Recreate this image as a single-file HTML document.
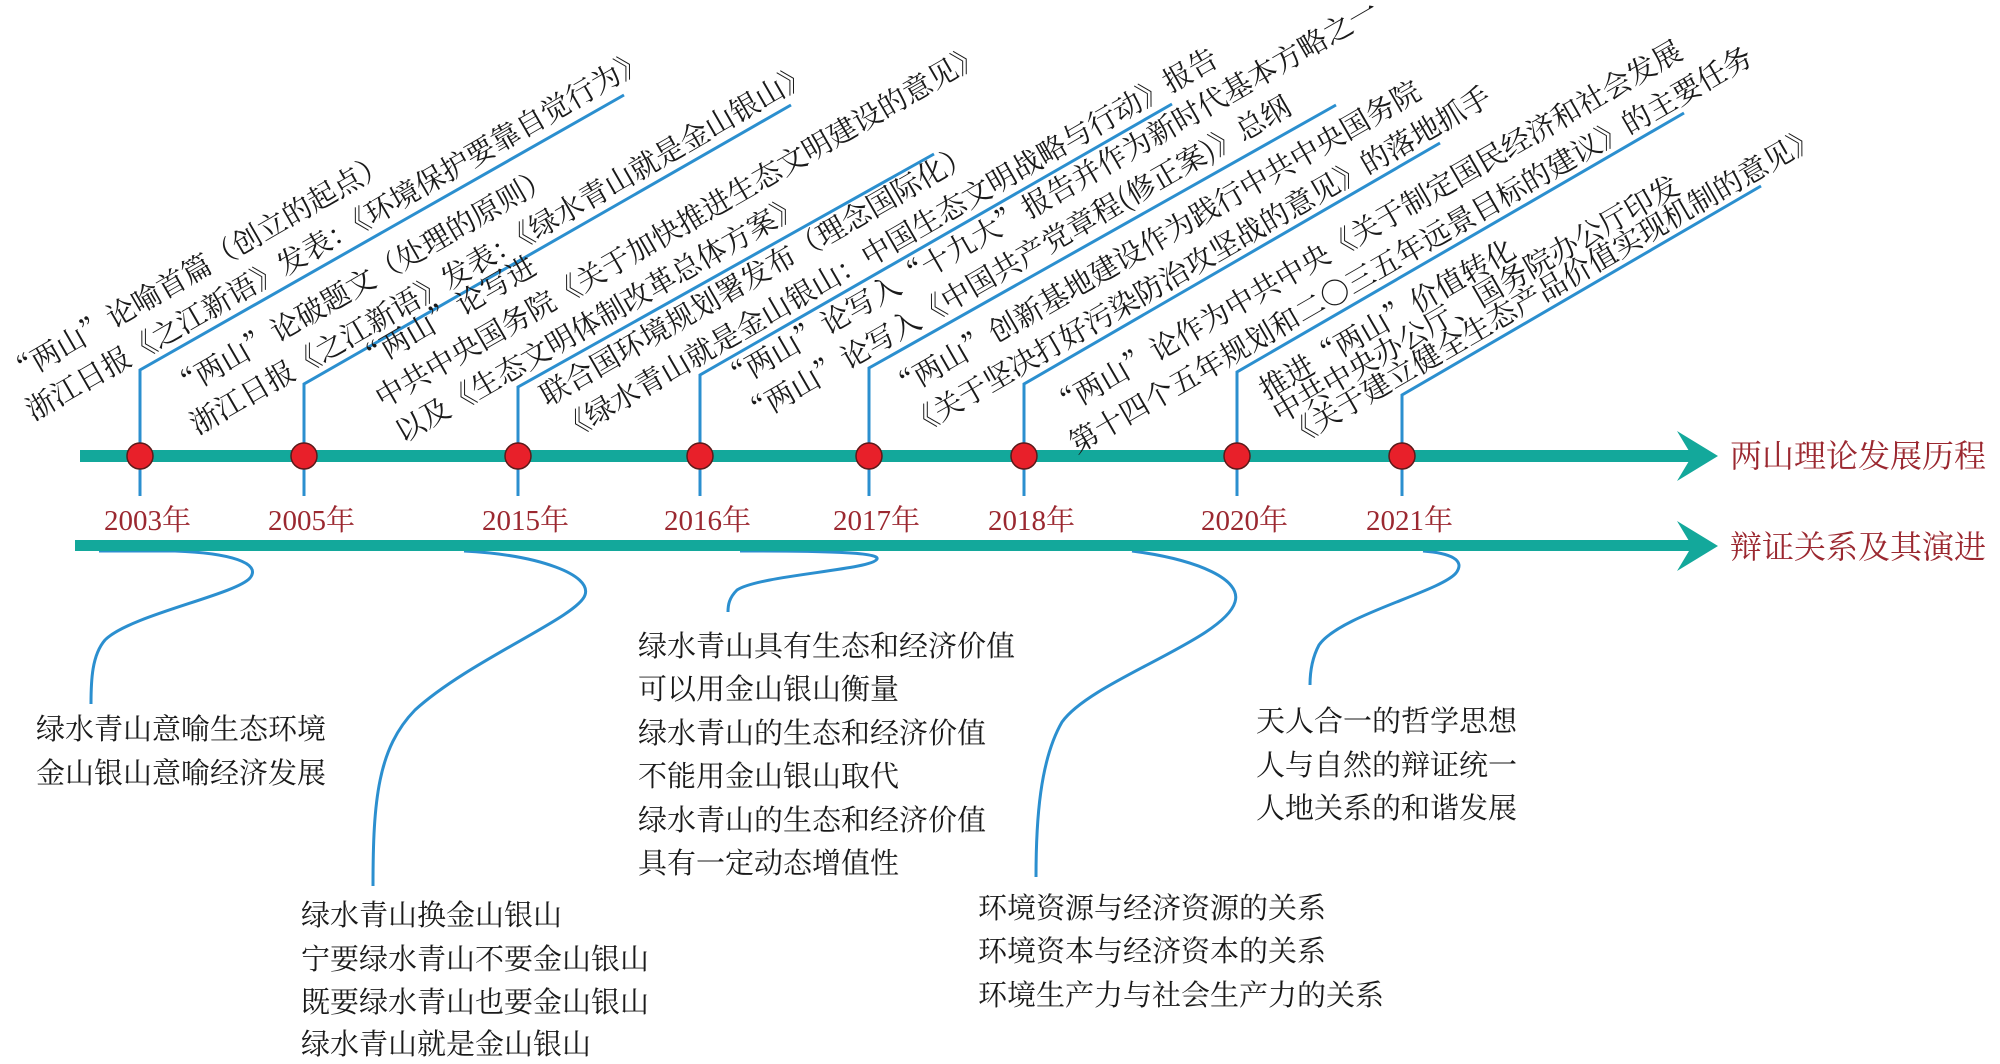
<!DOCTYPE html>
<html><head><meta charset="utf-8"><style>
html,body{margin:0;padding:0;background:#fff;}
svg{display:block;}
.t{font-family:"Noto Serif CJK SC","Liberation Serif",serif;font-size:29px;fill:#1a1a1a;}
.y{font-family:"Liberation Serif","Noto Serif CJK SC",serif;font-size:29px;fill:#9b2830;}
.h{font-family:"Noto Serif CJK SC","Liberation Serif",serif;font-size:32px;fill:#9b2830;}
</style></head><body>
<svg width="2000" height="1064" viewBox="0 0 2000 1064" xmlns="http://www.w3.org/2000/svg">
<g fill="none" stroke="#2b8fcf" stroke-width="3">
<polyline points="140,496 140,370 624,95"/>
<polyline points="304,496 304,384 791,105"/>
<polyline points="518,496 518,387 934,154"/>
<polyline points="700,496 700,375 1172,104"/>
<polyline points="869,496 869,368 1336,105"/>
<polyline points="1024,496 1024,384 1440,143"/>
<polyline points="1237,496 1237,372 1684,113"/>
<polyline points="1402,496 1402,395 1761,186"/>
<path d="M99,551 L175,551 C230,553 262,563 250,578 C235,595 130,615 105,640 C92,655 91,680 91,704"/>
<path d="M464,551 C540,555 592,575 585,595 C578,617 470,660 415,710 C378,748 373,800 373,886"/>
<path d="M740,551 C820,551 880,552 877,559 C872,570 760,575 737,590 C729,598 728,605 728,612"/>
<path d="M1132,551 C1200,560 1242,580 1235,602 C1224,640 1092,680 1062,722 C1040,760 1036,820 1036,877"/>
<path d="M1423,551 C1450,553 1466,560 1456,573 C1440,592 1340,615 1319,645 C1311,660 1310,675 1310,685"/>
</g>
<rect x="80" y="450" width="1622" height="12" fill="#13a89b"/>
<polygon points="1677,431 1718,456 1677,481 1692,456" fill="#13a89b"/>
<rect x="75" y="540" width="1627" height="11" fill="#13a89b"/>
<polygon points="1677,521 1718,546 1677,571 1692,546" fill="#13a89b"/>
<g fill="#e8202a" stroke="#5a1a1a" stroke-width="1.5">
<circle cx="140" cy="456" r="13"/><circle cx="304" cy="456" r="13"/><circle cx="518" cy="456" r="13"/><circle cx="700" cy="456" r="13"/>
<circle cx="869" cy="456" r="13"/><circle cx="1024" cy="456" r="13"/><circle cx="1237" cy="456" r="13"/><circle cx="1402" cy="456" r="13"/>
</g>
<text class="y" x="104" y="530">2003年</text>
<text class="y" x="268" y="530">2005年</text>
<text class="y" x="482" y="530">2015年</text>
<text class="y" x="664" y="530">2016年</text>
<text class="y" x="833" y="530">2017年</text>
<text class="y" x="988" y="530">2018年</text>
<text class="y" x="1201" y="530">2020年</text>
<text class="y" x="1366" y="530">2021年</text>
<text class="h" x="1730" y="467">两山理论发展历程</text>
<text class="h" x="1730" y="558">辩证关系及其演进</text>

<g transform="rotate(-30 140 370)" class="t">
<text x="22" y="321">“两山”论喻首篇（创立的起点）</text>
<text x="22" y="361">浙江日报《之江新语》发表：《环境保护要靠自觉行为》</text>
</g>
<g transform="rotate(-30 304 384)" class="t">
<text x="186" y="335">“两山”论破题文（处理的原则）</text>
<text x="186" y="375">浙江日报《之江新语》发表：《绿水青山就是金山银山》</text>
</g>
<g transform="rotate(-30 518 387)" class="t">
<text x="390" y="298">“两山”论写进</text>
<text x="390" y="338">中共中央国务院《关于加快推进生态文明建设的意见》</text>
<text x="390" y="378">以及《生态文明体制改革总体方案》</text>
</g>
<g transform="rotate(-30 700 375)" class="t">
<text x="552" y="326">联合国环境规划署发布（理念国际化）</text>
<text x="552" y="366">《绿水青山就是金山银山：中国生态文明战略与行动》报告</text>
</g>
<g transform="rotate(-30 869 368)" class="t">
<text x="734" y="319">“两山”论写入“十九大”报告并作为新时代基本方略之一</text>
<text x="734" y="359">“两山”论写入《中国共产党章程(修正案)》总纲</text>
</g>
<g transform="rotate(-30 1024 384)" class="t">
<text x="904" y="335">“两山”创新基地建设作为践行中共中央国务院</text>
<text x="904" y="375">《关于坚决打好污染防治攻坚战的意见》的落地抓手</text>
</g>
<g transform="rotate(-30 1237 372)" class="t">
<text x="1057" y="323">“两山”论作为中共中央《关于制定国民经济和社会发展</text>
<text x="1057" y="363">第十四个五年规划和二〇三五年远景目标的建议》的主要任务</text>
</g>
<g transform="rotate(-30 1402 395)" class="t">
<text x="1282" y="332">推进“两山”价值转化</text>
<text x="1282" y="359">中共中央办公厅、国务院办公厅印发</text>
<text x="1282" y="386">《关于建立健全生态产品价值实现机制的意见》</text>
</g>

<g class="t">
<text x="36" y="739">绿水青山意喻生态环境</text>
<text x="36" y="783">金山银山意喻经济发展</text>
<text x="301" y="925">绿水青山换金山银山</text>
<text x="301" y="969">宁要绿水青山不要金山银山</text>
<text x="301" y="1012">既要绿水青山也要金山银山</text>
<text x="301" y="1054">绿水青山就是金山银山</text>
<text x="638" y="656">绿水青山具有生态和经济价值</text>
<text x="638" y="699">可以用金山银山衡量</text>
<text x="638" y="743">绿水青山的生态和经济价值</text>
<text x="638" y="786">不能用金山银山取代</text>
<text x="638" y="830">绿水青山的生态和经济价值</text>
<text x="638" y="873">具有一定动态增值性</text>
<text x="978" y="918">环境资源与经济资源的关系</text>
<text x="978" y="961">环境资本与经济资本的关系</text>
<text x="978" y="1005">环境生产力与社会生产力的关系</text>
<text x="1256" y="731">天人合一的哲学思想</text>
<text x="1256" y="775">人与自然的辩证统一</text>
<text x="1256" y="818">人地关系的和谐发展</text>
</g>
</svg>
</body></html>
